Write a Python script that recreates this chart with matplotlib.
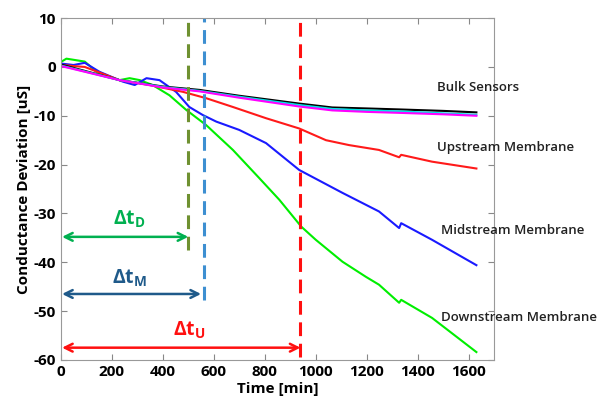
"""Conductance deviation of bulk and membrane sensors over time"""
import matplotlib
matplotlib.use("Agg")
from matplotlib import pyplot as plt

plt.rcParams["font.family"] = ["Open Sans", "DejaVu Sans"]
plt.rcParams["mathtext.fontset"] = "custom"
plt.rcParams["mathtext.rm"] = "Open Sans"
plt.rcParams["mathtext.bf"] = "Open Sans:bold"
plt.rcParams["axes.unicode_minus"] = False

# curves: time [min] and conductance deviation [uS]
t_down = [0, 22, 94, 140, 230, 270, 310, 360, 426, 492, 570, 675, 779, 857, 943,
          1000, 1105, 1197, 1248, 1327, 1335, 1456, 1630]
v_down = [1.0, 1.7, 1.1, -1.0, -2.7, -2.3, -2.7, -3.7, -5.8, -8.8, -11.9, -17.0,
          -22.8, -27.2, -32.7, -35.4, -39.9, -43.0, -44.6, -48.3, -47.7, -51.4, -58.4]

t_mid = [0, 50, 94, 152, 243, 290, 336, 387, 452, 504, 557, 610, 700, 805, 935,
         1105, 1248, 1327, 1335, 1456, 1630]
v_mid = [0.7, 0.4, 0.85, -1.0, -3.0, -3.7, -2.3, -2.7, -5.1, -8.2, -9.85, -11.2,
         -12.9, -15.6, -21.1, -25.8, -29.6, -33.0, -32.0, -35.4, -40.6]

t_up = [0, 94, 230, 348, 479, 570, 675, 805, 935, 1040, 1130, 1248, 1327, 1335,
        1456, 1630]
v_up = [0.4, 0.0, -2.7, -3.7, -5.1, -6.4, -8.2, -10.5, -12.6, -15.0, -16.0, -17.0,
        -18.5, -18.0, -19.4, -20.8]

t_bulk = [0, 230, 400, 544, 700, 935, 1065, 1200, 1327, 1500, 1630]
v_black = [0.5, -2.7, -4.0, -4.7, -5.9, -7.5, -8.3, -8.5, -8.7, -9.0, -9.3]
v_cyan = [0.3, -2.7, -4.1, -4.9, -6.1, -7.8, -8.6, -8.9, -9.1, -9.5, -9.8]
v_magenta = [0.2, -2.7, -4.2, -5.0, -6.3, -8.1, -8.9, -9.2, -9.4, -9.7, -10.0]

labels = ["Bulk Sensors", "Upstream Membrane", "Midstream Membrane", "Downstream Membrane"]
label_pos = [(1475, -4.3), (1475, -16.6), (1492, -33.4), (1490, -51.4)]

# onset times of each membrane sensor
t_onset = [500, 560, 940]
onset_colors = ["#6f9131", "#3d8fd1", "#ff1010"]
onset_bottoms = [-37.5, -47.7, -59.5]

delta_labels = [r"$\mathbf{\Delta t}_\mathbf{D}$", r"$\mathbf{\Delta t}_\mathbf{M}$",
                r"$\mathbf{\Delta t}_\mathbf{U}$"]
arrow_y = [-34.8, -46.5, -57.5]
arrow_end = [500, 550, 940]
arrow_colors = ["#00b050", "#1f5a8a", "#ff1010"]
delta_pos = [(270, -31.3), (270, -43.3), (505, -54.0)]

fig = plt.figure(figsize=(6.02, 4.03), dpi=100)
ax = fig.add_axes([0.101, 0.107, 0.72, 0.848])

ax.plot(t_down, v_down, color="#00ee00", lw=1.5)
ax.plot(t_mid, v_mid, color="#1a1aff", lw=1.5)
ax.plot(t_up, v_up, color="#ff1a1a", lw=1.5)
ax.plot(t_bulk, v_black, color="black", lw=1.5)
ax.plot(t_bulk, v_cyan, color="#00e5e5", lw=1.5)
ax.plot(t_bulk, v_magenta, color="#ff00ff", lw=1.5)

for t, c, b in zip(t_onset, onset_colors, onset_bottoms):
    ax.plot([t, t], [b, 10], color=c, lw=2.2, ls=(0, (4.5, 2.5)))

for y, e, c in zip(arrow_y, arrow_end, arrow_colors):
    ax.annotate("", xy=(e, y), xytext=(5, y),
                arrowprops=dict(arrowstyle="<->", color=c, lw=1.8,
                                mutation_scale=14, shrinkA=0, shrinkB=0))

for s, (x, y), c in zip(delta_labels, delta_pos, arrow_colors):
    ax.text(x, y, s, color=c, fontsize=14, ha="center", va="center")

for s, (x, y) in zip(labels, label_pos):
    ax.text(x, y, s, fontsize=9.5, color="#222222", ha="left", va="center",
            fontweight="semibold", clip_on=False)

ax.set_xlim(0, 1700)
ax.set_ylim(-60, 10)
ax.set_xticks(range(0, 1601, 200))
ax.set_yticks(range(-60, 11, 10))
ax.tick_params(direction="in", top=True, right=True, length=4, color="#888888",
               labelsize=11)
for lab in ax.get_xticklabels() + ax.get_yticklabels():
    lab.set_fontweight("bold")
for sp in ax.spines.values():
    sp.set_color("#999999")
ax.set_xlabel("Time [min]", fontsize=11, fontweight="bold", labelpad=2)
ax.set_ylabel("Conductance Deviation [uS]", fontsize=11, fontweight="bold", labelpad=2)

plt.savefig("out.png", dpi=100)
plt.close()
